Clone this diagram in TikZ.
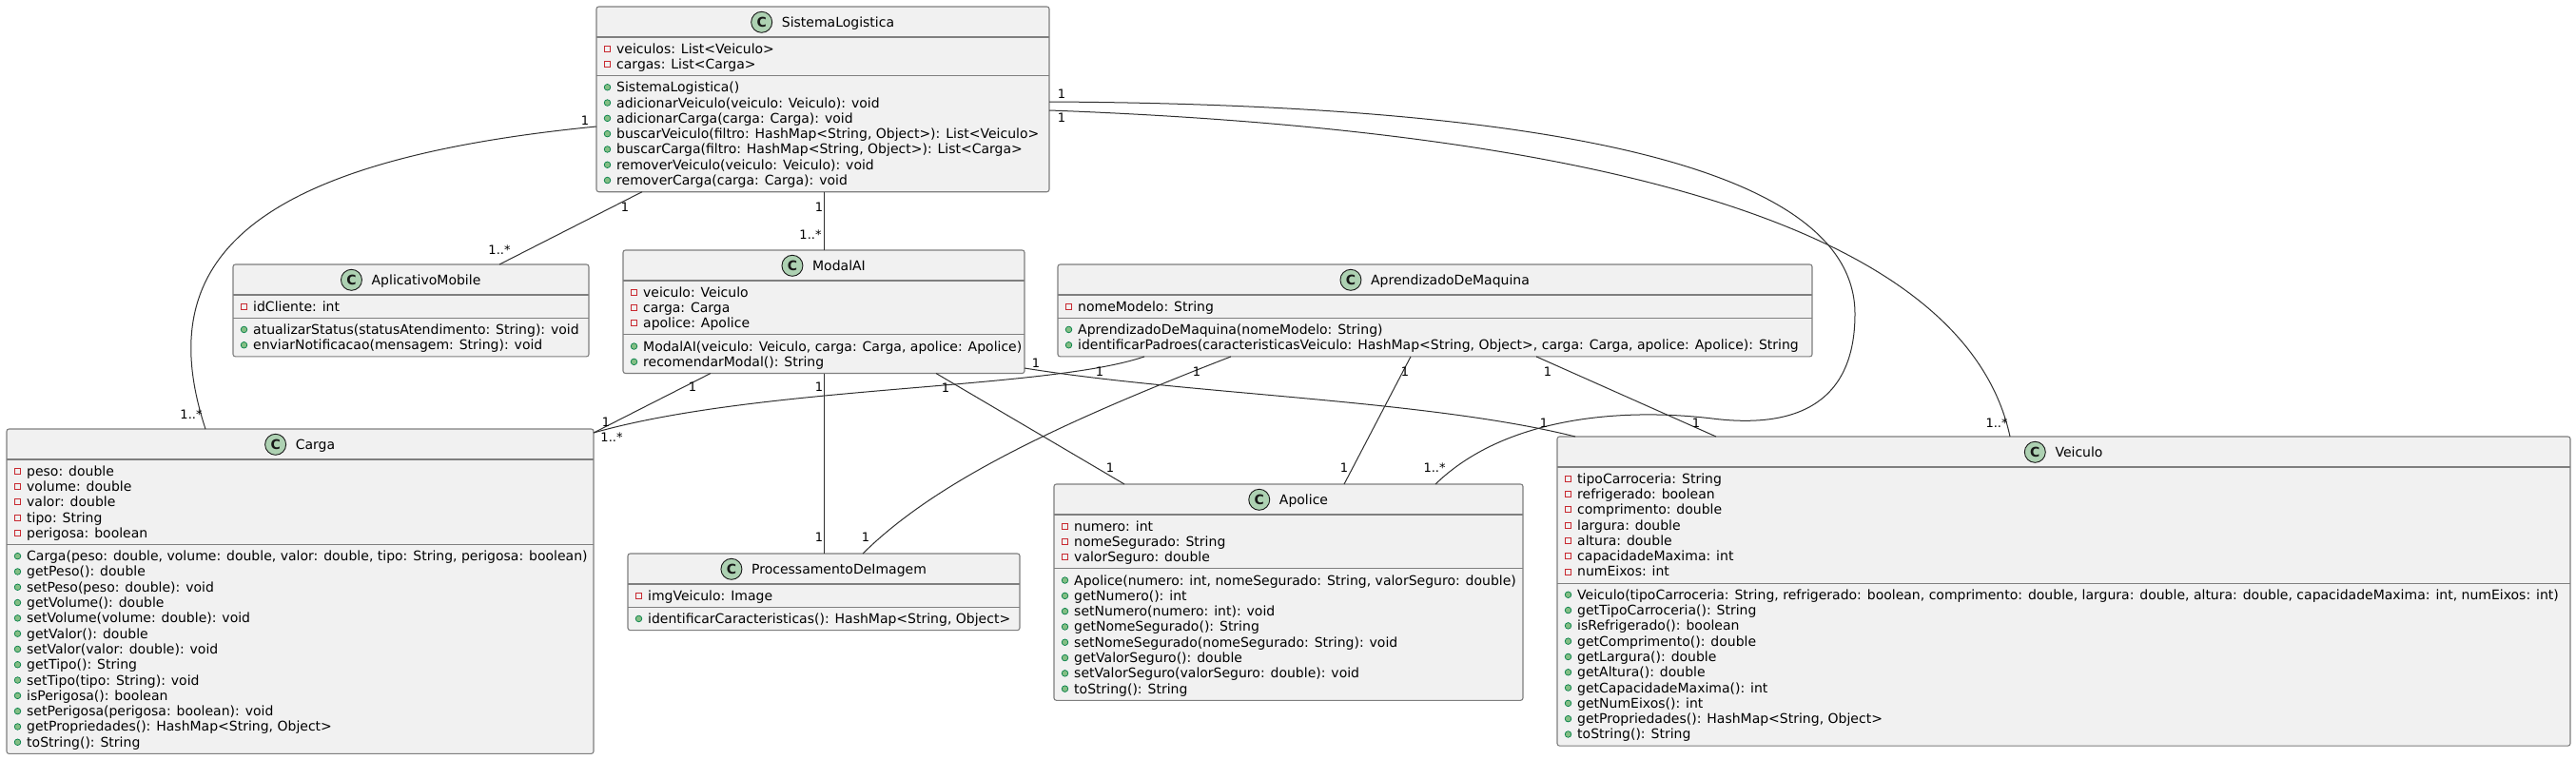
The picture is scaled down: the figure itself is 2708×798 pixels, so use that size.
\documentclass[tikz,border=0pt]{standalone}
\usepackage{fontspec}
\setmainfont{DejaVu Sans}
\usetikzlibrary{calc}
\definecolor{boxfill}{HTML}{F1F1F1}
\definecolor{boxline}{HTML}{7F7F7F}
\definecolor{spotfill}{HTML}{ADD1B2}
\definecolor{ink}{HTML}{181818}
\definecolor{privred}{HTML}{C82930}
\definecolor{pubfill}{HTML}{84BE84}
\definecolor{publine}{HTML}{038048}
\definecolor{linkc}{HTML}{303030}
\tikzset{
 classbox/.style={draw=boxline, fill=boxfill, line width=1.1pt, rounded corners=2.5pt, inner sep=0pt, outer sep=0pt},
 divline/.style={draw=boxline, line width=1.1pt},
 spot/.style={draw=ink, fill=spotfill, line width=0.9pt},
 spotletter/.style={font=\fontsize{14pt}{14pt}\selectfont\bfseries, text=ink, inner sep=0pt},
 titletext/.style={font=\fontsize{14pt}{16pt}\selectfont, text=black, inner sep=0pt},
 membertext/.style={font=\fontsize{14pt}{16pt}\selectfont, text=black, inner sep=0pt, anchor=base west},
 privicon/.style={draw=privred, line width=0.9pt},
 pubicon/.style={draw=publine, fill=pubfill, line width=0.7pt},
 assoc/.style={draw=linkc, line width=1pt},
 mult/.style={font=\fontsize{13pt}{13pt}\selectfont, text=black, inner sep=0pt},
}
% #1 name #2 x #3 y #4 w #5 title #6 na #7 attrs #8 nm #9 meths
\newcommand\UMLclass[9]{%
 \pgfmathsetmacro\hB{8+16.3*#6}%
 \pgfmathsetmacro\hC{8+16.3*#8}%
 \pgfmathsetmacro\hT{32+\hB+\hC}%
 \node[classbox, minimum width=#4pt, minimum height=\hT pt, anchor=north west] (#1) at (#2,#3) {};
 \draw[divline] (#2,#3+32) -- ++(#4,0);
 \draw[divline] (#2,#3+32+\hB) -- ++(#4,0);
 \node[titletext, anchor=base] (#1-t) at (#2+#4/2+16,#3+21.7) {#5};
 \coordinate (#1-c) at ($(#1-t.base west)+(-21,-5.4)$);
 \draw[spot] (#1-c) circle (11pt);
 \node[spotletter] at (#1-c) {C};
 \foreach \mtext [count=\i] in {#7} {
   \pgfmathsetmacro\cy{#3+32+4+16.3*(\i-0.5)}
   \draw[privicon] (#2+8.5,\cy-3) rectangle (#2+14.5,\cy+3);
   \node[membertext] at (#2+21,\cy+5) {\mtext};
 }
 \foreach \mtext [count=\i] in {#9} {
   \pgfmathsetmacro\cy{#3+32+\hB+4+16.3*(\i-0.5)}
   \draw[pubicon] (#2+11.5,\cy) circle (3.3pt);
   \node[membertext] at (#2+21,\cy+5) {\mtext};
 }
}
\begin{document}
\begin{tikzpicture}[x=1pt,y=-1pt]
\fill[white] (0,0) rectangle (2708,798);
\useasboundingbox (0,0) rectangle (2708,798);

\UMLclass{SL}{627}{7}{476}{SistemaLogistica}{2}{{veiculos: List<Veiculo>},{cargas: List<Carga>}}{7}{{SistemaLogistica()},{adicionarVeiculo(veiculo: Veiculo): void},{adicionarCarga(carga: Carga): void},{buscarVeiculo(filtro: HashMap<String, Object>): List<Veiculo>},{buscarCarga(filtro: HashMap<String, Object>): List<Carga>},{removerVeiculo(veiculo: Veiculo): void},{removerCarga(carga: Carga): void}}

\UMLclass{Aplic}{245}{278}{374}{AplicativoMobile}{1}{{idCliente: int}}{2}{{atualizarStatus(statusAtendimento: String): void},{enviarNotificacao(mensagem: String): void}}

\UMLclass{Carga}{7}{451}{617}{Carga}{5}{{peso: double},{volume: double},{valor: double},{tipo: String},{perigosa: boolean}}{13}{{Carga(peso: double, volume: double, valor: double, tipo: String, perigosa: boolean)},{getPeso(): double},{setPeso(peso: double): void},{getVolume(): double},{setVolume(volume: double): void},{getValor(): double},{setValor(valor: double): void},{getTipo(): String},{setTipo(tipo: String): void},{isPerigosa(): boolean},{setPerigosa(perigosa: boolean): void},{getPropriedades(): HashMap<String, Object>},{toString(): String}}

\UMLclass{MAI}{655}{263}{422}{ModalAI}{3}{{veiculo: Veiculo},{carga: Carga},{apolice: Apolice}}{2}{{ModalAI(veiculo: Veiculo, carga: Carga, apolice: Apolice)},{recomendarModal(): String}}

\UMLclass{PI}{660}{582}{412}{ProcessamentoDeImagem}{1}{{imgVeiculo: Image}}{1}{{identificarCaracteristicas(): HashMap<String, Object>}}

\UMLclass{AM}{1112}{278}{793}{AprendizadoDeMaquina}{1}{{nomeModelo: String}}{2}{{AprendizadoDeMaquina(nomeModelo: String)},{identificarPadroes(caracteristicasVeiculo: HashMap<String, Object>, carga: Carga, apolice: Apolice): String}}

\UMLclass{Apolice}{1108}{509}{493}{Apolice}{3}{{numero: int},{nomeSegurado: String},{valorSeguro: double}}{8}{{Apolice(numero: int, nomeSegurado: String, valorSeguro: double)},{getNumero(): int},{setNumero(numero: int): void},{getNomeSegurado(): String},{setNomeSegurado(nomeSegurado: String): void},{getValorSeguro(): double},{setValorSeguro(valorSeguro: double): void},{toString(): String}}

\UMLclass{Veiculo}{1637}{459}{1065}{Veiculo}{7}{{tipoCarroceria: String},{refrigerado: boolean},{comprimento: double},{largura: double},{altura: double},{capacidadeMaxima: int},{numEixos: int}}{10}{{Veiculo(tipoCarroceria: String, refrigerado: boolean, comprimento: double, largura: double, altura: double, capacidadeMaxima: int, numEixos: int)},{getTipoCarroceria(): String},{isRefrigerado(): boolean},{getComprimento(): double},{getLargura(): double},{getAltura(): double},{getCapacidadeMaxima(): int},{getNumEixos(): int},{getPropriedades(): HashMap<String, Object>},{toString(): String}}

% connectors
\draw[assoc] ($(SL.north west)+(0,126)$) .. controls (250,170) and (160,280) .. ($(Carga.north west)+(209,0)$);
\draw[assoc] ($(SL.south west)+(48,0)$) -- ($(Aplic.north west)+(280,0)$);
\draw[assoc] ($(SL.south west)+(239,0)$) -- ($(MAI.north west)+(211,0)$);
\draw[assoc] ($(SL.north east)+(0,100)$) .. controls (1650,110) and (1950,180) .. (1950,330) .. controls (1950,430) and (1880,450) .. (1800,440) .. controls (1700,428) and (1580,440) .. ($(Apolice.north west)+(401,0)$);
\draw[assoc] ($(SL.north east)+(0,109)$) .. controls (1750,140) and (2070,260) .. ($(Veiculo.north west)+(476,0)$);
\draw[assoc] ($(MAI.south west)+(92,0)$) -- ($(Carga.north east)+(0,4)$);
\draw[assoc] ($(MAI.south west)+(211,0)$) -- ($(PI.north west)+(206,0)$);
\draw[assoc] ($(MAI.south west)+(329,0)$) -- ($(Apolice.north west)+(74,0)$);
\draw[assoc] ($(MAI.north east)+(0,124)$) .. controls (1250,415) and (1500,420) .. ($(Veiculo.north west)+(19,0)$);
\draw[assoc] ($(AM.south west)+(91,0)$) .. controls (1100,410) and (800,405) .. ($(Carga.north east)+(0,4)$);
\draw[assoc] ($(AM.south west)+(182,0)$) .. controls (1100,450) and (980,510) .. ($(PI.north west)+(247,0)$);
\draw[assoc] ($(AM.south west)+(371,0)$) -- ($(Apolice.north west)+(305,0)$);
\draw[assoc] ($(AM.south west)+(503,0)$) -- ($(Veiculo.north west)+(167,0)$);

% multiplicities
\node[mult] at (615,127) {1};
\node[mult] at (201,436) {1..*};
\node[mult] at (657,218) {1};
\node[mult] at (525,263) {1..*};
\node[mult] at (861,218) {1};
\node[mult] at (852,247) {1..*};
\node[mult] at (1116,99) {1};
\node[mult] at (1508,492) {1..*};
\node[mult] at (1116,124) {1};
\node[mult] at (2099,445) {1..*};
\node[mult] at (728,407) {1};
\node[mult] at (637,444) {1};
\node[mult] at (861,407) {1};
\node[mult] at (861,565) {1};
\node[mult] at (994,408) {1};
\node[mult] at (1167,492) {1};
\node[mult] at (1089,382) {1};
\node[mult] at (1623,445) {1};
\node[mult] at (1156,391) {1};
\node[mult] at (643,460) {1..*};
\node[mult] at (1258,391) {1};
\node[mult] at (910,565) {1};
\node[mult] at (1477,391) {1};
\node[mult] at (1413,492) {1};
\node[mult] at (1627,391) {1};
\node[mult] at (1783,445) {1};
\end{tikzpicture}
\end{document}
